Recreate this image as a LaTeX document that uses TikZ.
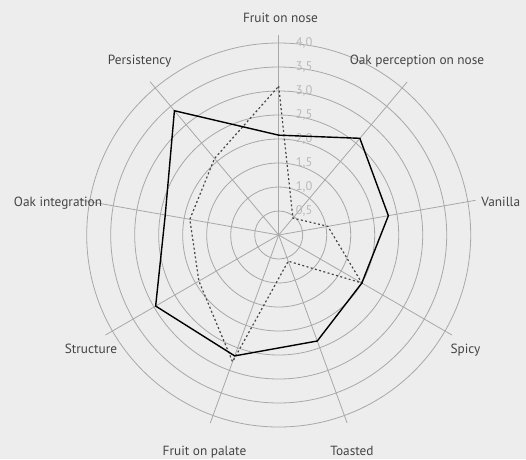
\documentclass[tikz,border=0pt]{standalone}
\usepackage{fontspec}
\setmainfont{PT Sans}
\definecolor{bgc}{RGB}{237,237,237}
\definecolor{gridc}{RGB}{168,168,168}
\definecolor{tickc}{RGB}{185,185,185}
\definecolor{labc}{RGB}{68,68,68}
\definecolor{dashc}{RGB}{70,70,70}
\tikzset{
  gridline/.style={draw=gridc, line width=0.8pt},
  axislabel/.style={text=labc, font=\fontsize{13.3}{15}\selectfont, anchor=base, inner sep=0pt},
  ticklabel/.style={text=tickc, font=\fontsize{12.5}{14}\selectfont, anchor=west, inner sep=0pt},
  seriesA/.style={draw=black, line width=1.4pt, line join=miter},
  seriesB/.style={draw=dashc, line width=1.2pt, dash pattern=on 2pt off 2.4pt},
}
\begin{document}
\begin{tikzpicture}[x=1pt,y=1pt]
\fill[bgc] (-278.7,-224) rectangle (247.3,235);
\useasboundingbox (-278.7,-224) rectangle (247.3,235);
\coordinate (c) at (0,0);
% circles
\foreach \k in {1,...,8} {
  \draw[gridline] (c) circle[radius=24*\k];
}
% spokes
\foreach \a [count=\i] in {90,50,10,-30,-70,-110,-150,170,130} {
  \coordinate (end\i) at (\a:200);
  \draw[gridline] (c) -- (end\i);
}
% tick labels
\foreach \t [count=\k] in {{0,5},{1,0},{1,5},{2,0},{2,5},{3,0},{3,5},{4,0}} {
  \node[ticklabel] (tick\k) at (17,24*\k) {\t};
}
% axis labels
\node[axislabel] (l1) at (1.8,212.7) {Fruit on nose};
\node[axislabel] (l2) at (138.3,170.7) {Oak perception on nose};
\node[axislabel] (l3) at (222.1,29) {Vanilla};
\node[axislabel] (l4) at (186.8,-118.3) {Spicy};
\node[axislabel] (l5) at (73.3,-220.7) {Toasted};
\node[axislabel] (l6) at (-74.2,-220.7) {Fruit on palate};
\node[axislabel] (l7) at (-187.7,-118.3) {Structure};
\node[axislabel] (l8) at (-220.7,29) {Oak integration};
\node[axislabel] (l9) at (-139,170.7) {Persistency};
% data
\foreach \a/\v [count=\i] in {90/2.08,50/2.63,10/2.32,-30/2.0,-70/2.35,-110/2.68,-150/2.96,170/2.4,130/3.38} {
  \coordinate (s\i) at (\a:{48*\v});
}
\foreach \a/\v [count=\i] in {90/3.1,50/0.46,10/1.04,-30/2.0,-70/0.58,-110/2.81,-150/1.92,170/1.88,130/2.08} {
  \coordinate (d\i) at (\a:{48*\v});
}
\draw[seriesB] (d1) -- (d2) -- (d3) -- (d4) -- (d5) -- (d6) -- (d7) -- (d8) -- (d9) -- cycle;
\draw[seriesA] (s1) -- (s2) -- (s3) -- (s4) -- (s5) -- (s6) -- (s7) -- (s8) -- (s9) -- cycle;
\end{tikzpicture}
\end{document}
